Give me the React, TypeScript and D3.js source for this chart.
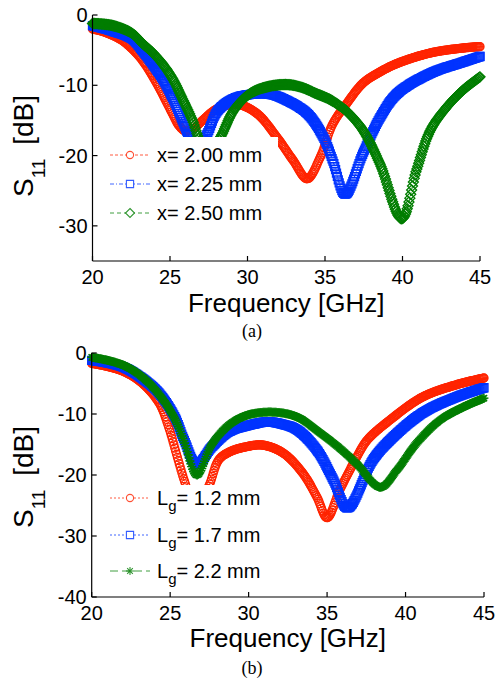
import React, { useEffect, useRef } from "react";
import * as d3 from "d3";

const SANS = "Arial, 'Liberation Sans', Helvetica, sans-serif";
const SERIF = "'Times New Roman', 'Liberation Serif', serif";

// Shared axis ticks
const freqTicks = [20, 25, 30, 35, 40, 45];
const s11TicksA = [0, -10, -20, -30];
const s11TicksB = [0, -10, -20, -30, -40];

// (a) slot offset x = 2.00 mm
const freqX200 = [20, 20.6, 21.3, 21.9, 22.55, 23.2, 23.85, 24.5, 25.15, 25.6, 26.0, 26.5, 27.1, 28.0, 29.3, 30.6, 31.9, 32.95, 33.85, 34.7, 35.5, 36.4, 37.45, 38.55, 39.65, 41.8, 43.9, 45];
const s11X200 = [-2.0, -2.3, -2.9, -3.6, -4.8, -6.4, -8.6, -11.2, -14.0, -15.8, -16.5, -16.2, -15.0, -13.4, -12.7, -14.0, -17.4, -20.7, -23.3, -20.2, -15.5, -12.6, -9.7, -8.1, -6.9, -5.4, -4.7, -4.5];

// (a) x = 2.25 mm
const freqX225 = [20, 21.3, 22.55, 23.2, 23.85, 24.5, 25.15, 25.8, 26.3, 26.75, 27.4, 28.05, 29.1, 30.6, 31.5, 32.3, 33.85, 34.9, 35.5, 36.3, 37.45, 38.55, 39.65, 41.8, 43.9, 45];
const s11X225 = [-1.5, -2.3, -3.4, -5.0, -6.9, -9.0, -11.7, -15.0, -17.6, -19.0, -16.9, -13.7, -11.9, -11.2, -11.3, -11.9, -14.0, -17.4, -20.7, -25.5, -19.7, -14.6, -11.2, -8.3, -6.7, -5.9];

// (a) x = 2.50 mm
const freqX250 = [20, 21.3, 22.55, 23.2, 23.85, 24.5, 25.15, 25.8, 26.45, 26.95, 27.55, 28.25, 29.1, 30.15, 31.3, 32.55, 33.5, 34.45, 35.3, 36.0, 36.45, 37.45, 38.55, 39.95, 40.9, 41.8, 42.85, 43.9, 45];
const s11X250 = [-1.2, -1.5, -2.6, -4.0, -5.3, -6.9, -9.0, -11.9, -15.0, -18.0, -19.6, -17.4, -13.6, -11.2, -10.2, -9.9, -10.3, -11.2, -12.0, -13.0, -13.8, -16.4, -21.2, -29.0, -22.1, -16.4, -13.1, -10.7, -8.8];

// (b) ground length Lg = 1.2 mm
const freqLg12 = [20, 21.0, 22.1, 23.2, 24.3, 24.9, 25.45, 25.95, 26.65, 27.5, 28.1, 28.8, 29.8, 30.9, 32.2, 33.45, 34.35, 35.0, 35.8, 36.45, 36.9, 37.55, 39.0, 41.1, 43.25, 45];
const s11Lg12 = [-1.7, -2.2, -3.1, -4.9, -8.2, -12.1, -17.0, -21.3, -26.0, -21.6, -17.5, -16.2, -15.4, -15.1, -16.4, -19.7, -23.6, -27.0, -22.5, -19.2, -17.0, -14.3, -11.0, -7.2, -5.2, -4.1];

// (b) Lg = 1.7 mm
const freqLg17 = [20, 21.0, 22.1, 23.2, 24.3, 25.3, 25.9, 26.7, 27.65, 28.75, 30.1, 31.2, 32.2, 33.1, 34.35, 35.4, 36.3, 37.9, 39.0, 41.1, 43.25, 45];
const s11Lg17 = [-1.2, -1.6, -2.4, -4.1, -6.6, -10.5, -14.3, -18.3, -15.4, -12.9, -11.8, -11.3, -11.7, -12.6, -15.9, -20.8, -25.4, -17.6, -14.3, -9.8, -7.2, -5.7];

// (b) Lg = 2.2 mm
const freqLg22 = [20, 21.0, 22.1, 23.2, 24.3, 25.3, 25.9, 26.7, 27.65, 28.75, 29.9, 31.55, 33.1, 34.55, 35.8, 36.9, 38.4, 39.45, 40.7, 42.2, 43.65, 45];
const s11Lg22 = [-0.7, -1.2, -2.1, -3.9, -6.8, -10.8, -14.6, -20.0, -15.0, -11.8, -10.2, -9.7, -10.5, -13.1, -15.6, -18.2, -22.0, -19.2, -14.8, -11.0, -8.9, -7.4];

const RED = "#ff2400";
const BLUE = "#0033ff";
const GREEN = "#007d00";

type Marker = "circle" | "square" | "diamond" | "star";

interface Series {
  freq: number[];
  s11: number[];
  color: string;
  marker: Marker;
  dash: string;
  label: string;
  sub?: string;
  rest?: string;
}

interface PanelCfg {
  left: number;
  right: number;
  top: number;
  bottom: number;
  yMin: number;
  yTicks: number[];
  series: Series[];
  legend: { x: number; y: number; w: number; h: number; rows: number[] };
  caption: string;
  captionY: number;
  yLabelCenter: number;
  xLabelY: number;
}

const panelA: PanelCfg = {
  left: 92.5,
  right: 480,
  top: 15,
  bottom: 261,
  yMin: -35,
  yTicks: s11TicksA,
  series: [
    { freq: freqX200, s11: s11X200, color: RED, marker: "circle", dash: "3,2", label: "x= 2.00 mm" },
    { freq: freqX225, s11: s11X225, color: BLUE, marker: "square", dash: "4,2,1,2", label: "x= 2.25 mm" },
    { freq: freqX250, s11: s11X250, color: GREEN, marker: "diamond", dash: "4,3", label: "x= 2.50 mm" },
  ],
  legend: { x: 100, y: 137, w: 178, h: 95, rows: [155, 184, 213] },
  caption: "(a)",
  captionY: 337,
  yLabelCenter: 146,
  xLabelY: 311.5,
};

const panelB: PanelCfg = {
  left: 91.7,
  right: 484,
  top: 353,
  bottom: 597,
  yMin: -40,
  yTicks: s11TicksB,
  series: [
    { freq: freqLg12, s11: s11Lg12, color: RED, marker: "circle", dash: "2,2", label: "L", sub: "g", rest: "= 1.2 mm" },
    { freq: freqLg17, s11: s11Lg17, color: BLUE, marker: "square", dash: "2,2", label: "L", sub: "g", rest: "= 1.7 mm" },
    { freq: freqLg22, s11: s11Lg22, color: GREEN, marker: "star", dash: "8,4", label: "L", sub: "g", rest: "= 2.2 mm" },
  ],
  legend: { x: 100, y: 485, w: 178, h: 105, rows: [498, 535, 571] },
  caption: "(b)",
  captionY: 674,
  yLabelCenter: 477,
  xLabelY: 646.5,
};

function markerPath(m: Marker, scale = 1): string {
  if (m === "circle") {
    const r = 4 * scale;
    return `M${-r},0a${r},${r} 0 1,0 ${2 * r},0a${r},${r} 0 1,0 ${-2 * r},0Z`;
  }
  if (m === "square") {
    const s = 4 * scale;
    return `M${-s},${-s}h${2 * s}v${2 * s}h${-2 * s}Z`;
  }
  if (m === "diamond") {
    const d = 5 * scale;
    return `M0,${-d}L${d},0L0,${d}L${-d},0Z`;
  }
  const r = 4.5 * scale;
  const k = r * 0.7;
  return `M${-r},0H${r}M0,${-r}V${r}M${-k},${-k}L${k},${k}M${-k},${k}L${k},${-k}`;
}

function drawPanel(root: d3.Selection<SVGGElement, unknown, null, undefined>, cfg: PanelCfg) {
  const x = d3.scaleLinear().domain([20, 45]).range([cfg.left, cfg.right]);
  const y = d3.scaleLinear().domain([cfg.yMin, 0]).range([cfg.bottom, cfg.top]);
  const g = root.append("g");

  const line = d3
    .line<[number, number]>()
    .x((d) => x(d[0]))
    .y((d) => y(d[1]))
    .curve(d3.curveCatmullRom.alpha(0.5));

  // Dense marker trails along each response curve
  cfg.series.forEach((s) => {
    const pts: [number, number][] = s.freq.map((f, i) => [f, s.s11[i]]);
    const path = g
      .append("path")
      .attr("d", line(pts) as string)
      .attr("fill", "none")
      .attr("stroke", s.color)
      .attr("stroke-width", 1)
      .attr("stroke-dasharray", s.dash);
    const node = path.node() as SVGPathElement;
    const len = node.getTotalLength();
    const marks: [number, number][] = [];
    let lastX = -Infinity;
    for (let l = 0; l <= len; l += 0.25) {
      const p = node.getPointAtLength(l);
      if (p.x - lastX >= 0.85) {
        marks.push([p.x, p.y]);
        lastX = p.x;
      }
    }
    const end = node.getPointAtLength(len);
    marks.push([end.x, end.y]);
    g.append("g")
      .selectAll("path")
      .data(marks)
      .join("path")
      .attr("d", markerPath(s.marker))
      .attr("transform", (d) => `translate(${d[0]},${d[1]})`)
      .attr("fill", "none")
      .attr("stroke", s.color)
      .attr("stroke-width", 1.3);
  });

  // Legend
  const lg = cfg.legend;
  const leg = g.append("g");
  leg.append("rect").attr("x", lg.x).attr("y", lg.y).attr("width", lg.w).attr("height", lg.h).attr("fill", "#fff");
  cfg.series.forEach((s, i) => {
    const ry = lg.rows[i];
    leg
      .append("line")
      .attr("x1", 110)
      .attr("x2", 150)
      .attr("y1", ry)
      .attr("y2", ry)
      .attr("stroke", s.color)
      .attr("stroke-opacity", 0.75)
      .attr("stroke-width", 1)
      .attr("stroke-dasharray", s.dash);
    leg
      .append("path")
      .attr("d", markerPath(s.marker, 0.9))
      .attr("transform", `translate(130,${ry})`)
      .attr("fill", "#fff")
      .attr("stroke", s.color)
      .attr("stroke-opacity", 0.8)
      .attr("stroke-width", 1.1);
    const t = leg
      .append("text")
      .attr("x", 157)
      .attr("y", ry + 7)
      .attr("font-family", SANS)
      .attr("font-size", 20)
      .attr("fill", "#000");
    t.append("tspan").text(s.label);
    if (s.sub) {
      t.append("tspan").attr("font-size", 15).attr("dy", 6).text(s.sub);
      t.append("tspan").attr("dy", -6).text(s.rest || "");
    }
  });

  // Axes: left and bottom only, ticks pointing inward
  const ax = g.append("g").attr("stroke", "#000").attr("stroke-width", 1.2);
  ax.append("line").attr("x1", cfg.left).attr("x2", cfg.left).attr("y1", cfg.top).attr("y2", cfg.bottom);
  ax.append("line").attr("x1", cfg.left).attr("x2", cfg.right).attr("y1", cfg.bottom).attr("y2", cfg.bottom);
  freqTicks.forEach((f) => {
    ax.append("line").attr("x1", x(f)).attr("x2", x(f)).attr("y1", cfg.bottom).attr("y2", cfg.bottom - 5);
  });
  cfg.yTicks.forEach((v) => {
    ax.append("line").attr("x1", cfg.left).attr("x2", cfg.left + 5).attr("y1", y(v)).attr("y2", y(v));
  });

  const tl = g.append("g").attr("font-family", SANS).attr("font-size", 20).attr("fill", "#000");
  freqTicks.forEach((f) => {
    tl.append("text").attr("x", x(f)).attr("y", cfg.bottom + 23).attr("text-anchor", "middle").text(String(f));
  });
  cfg.yTicks.forEach((v) => {
    tl.append("text").attr("x", cfg.left - 5).attr("y", y(v) + 7).attr("text-anchor", "end").text(String(v));
  });

  // Axis titles
  g.append("text")
    .attr("x", (cfg.left + cfg.right) / 2)
    .attr("y", cfg.xLabelY)
    .attr("text-anchor", "middle")
    .attr("font-family", SANS)
    .attr("font-size", 26)
    .text("Frequency [GHz]");

  const yl = g
    .append("text")
    .attr("transform", `translate(33,${cfg.yLabelCenter}) rotate(-90)`)
    .attr("text-anchor", "middle")
    .attr("font-family", SANS)
    .attr("font-size", 28);
  yl.append("tspan").text("S");
  yl.append("tspan").attr("font-size", 19).attr("dy", 12).text("11");
  yl.append("tspan").attr("dy", -12).attr("dx", 6).text(" [dB]");

  g.append("text")
    .attr("x", 252)
    .attr("y", cfg.captionY)
    .attr("text-anchor", "middle")
    .attr("font-family", SERIF)
    .attr("font-size", 18)
    .text(cfg.caption);
}

export default function App() {
  const ref = useRef<SVGGElement>(null);
  useEffect(() => {
    if (!ref.current) return;
    const root = d3.select(ref.current);
    root.selectAll("*").remove();
    drawPanel(root, panelA);
    drawPanel(root, panelB);
  }, []);
  return (
    <svg
      width={495}
      height={680}
      style={{ position: "absolute", left: 0, top: 0, background: "#fff" }}
    >
      <g ref={ref} />
    </svg>
  );
}
